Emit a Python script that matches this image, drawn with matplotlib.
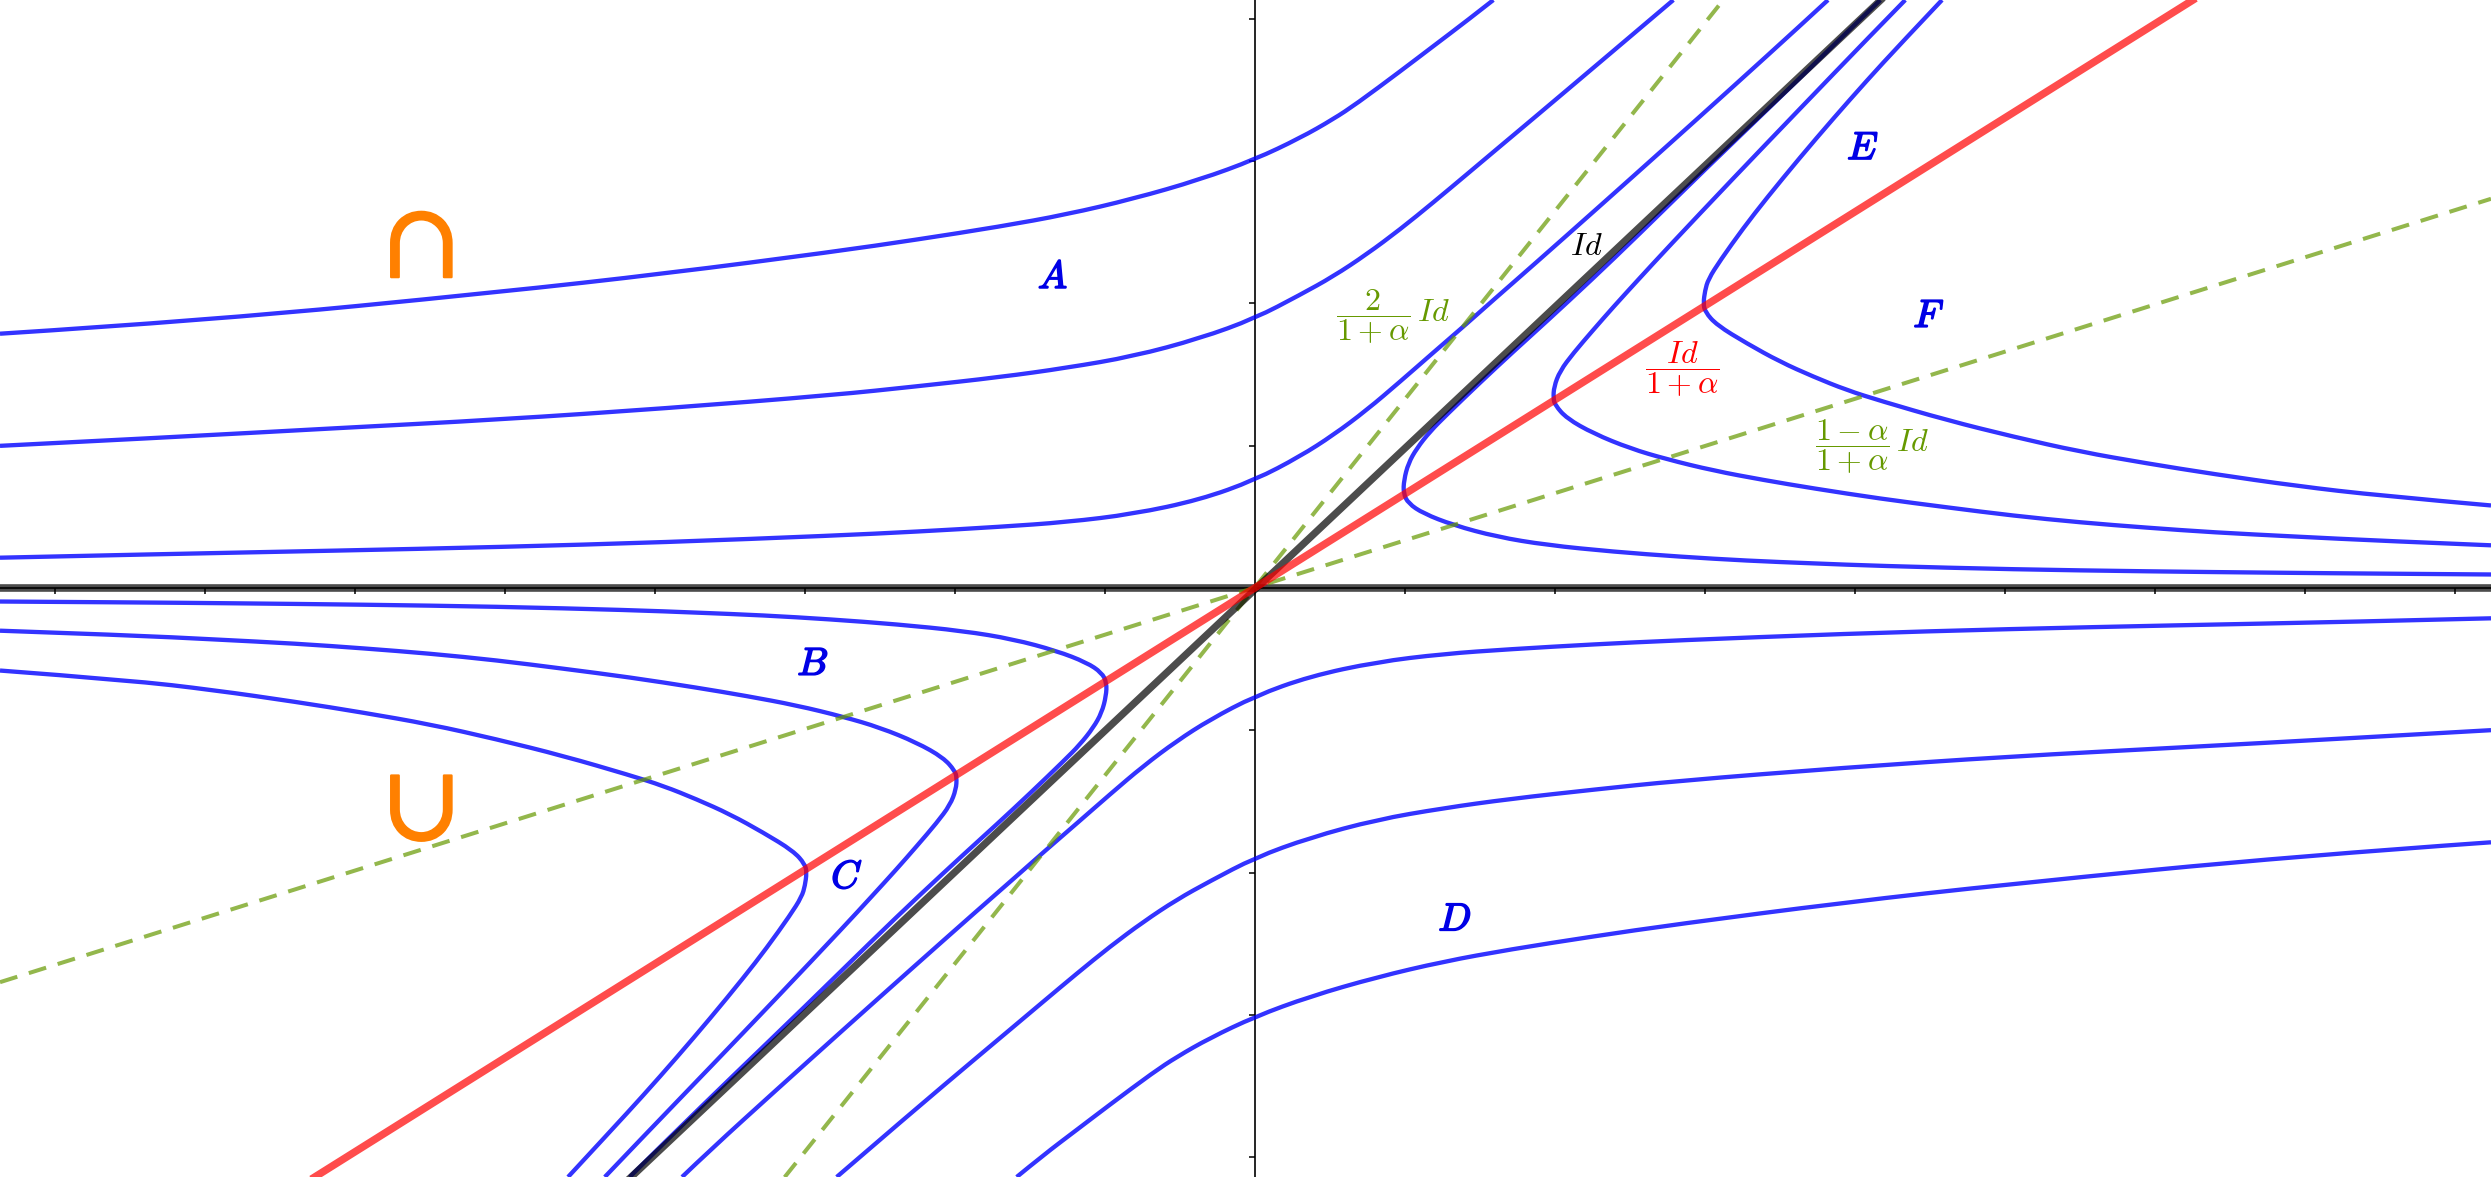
"""
Phase portrait: blue solution curves around the lines Id, Id/(1+a) and the two inflection lines
"""
import matplotlib
matplotlib.use('Agg')
import matplotlib.pyplot as plt
import matplotlib.patheffects as pe
from matplotlib.patches import PathPatch
from matplotlib.path import Path

plt.rcParams['mathtext.fontset'] = 'cm'

XLIM = (-8.367, 8.24)
YLIM = (-4.139, 4.132)

# straight lines, read at the picture edges
id_x = [-4.16, 4.17]
id_y = [-4.14, 4.13]
red_x = [-6.27, 6.25]
red_y = [-4.14, 4.13]
green_steep_x = [-3.136, 3.12]
green_steep_y = [-4.14, 4.13]
green_flat_x = [-8.367, 8.24]
green_flat_y = [-2.77, 2.735]

tick_x = [-8, -7, -6, -5, -4, -3, -2, -1, 1, 2, 3, 4, 5, 6, 7, 8]
tick_y = [-4, -3, -2, -1, 1, 2, 3, 4]

# curves above the x axis that cross the y axis
a1_x = [-8.367, -7.256, -6.144, -5.033, -3.922, -2.811, -2.256, -1.7, -1.256, -0.811, -0.367, 0, 0.3, 0.522, 0.744, 0.967, 1.189, 1.411, 1.589, 1.856, 2.3, 2.744, 3.189, 3.633, 3.82]
a1_y = [0.213, 0.239, 0.262, 0.288, 0.322, 0.368, 0.396, 0.43, 0.463, 0.52, 0.62, 0.759, 0.925, 1.075, 1.25, 1.45, 1.655, 1.857, 2.024, 2.27, 2.685, 3.103, 3.525, 3.95, 4.132]
a2_x = [-8.367, -7.256, -6.144, -5.033, -3.922, -2.811, -2.256, -1.7, -1.256, -0.811, -0.367, 0, 0.3, 0.522, 0.744, 0.967, 1.189, 1.411, 1.633, 1.856, 2.3, 2.789]
a2_y = [0.999, 1.058, 1.122, 1.184, 1.263, 1.356, 1.417, 1.482, 1.547, 1.628, 1.754, 1.895, 2.06, 2.19, 2.345, 2.52, 2.71, 2.906, 3.103, 3.3, 3.695, 4.132]
a3_x = [-8.367, -6.944, -5.033, -3.922, -2.811, -2.256, -1.7, -1.256, -0.811, -0.367, 0, 0.3, 0.522, 0.678, 0.967, 1.189, 1.411, 1.589]
a3_y = [1.787, 1.883, 2.08, 2.211, 2.363, 2.448, 2.54, 2.625, 2.735, 2.87, 3.012, 3.162, 3.295, 3.404, 3.63, 3.808, 3.985, 4.132]

# curves with a vertical tangent on the red line, right side
f1_x = [4.169, 3.933, 3.464, 3.004, 2.549, 2.244, 1.944, 1.722, 1.5, 1.278, 1.167, 1.078, 1.022, 0.993, 0.989, 1.022, 1.122, 1.322, 1.611, 1.944, 2.389, 2.833, 3.278, 3.722, 4.167, 5.056, 5.944, 6.833, 7.5, 8.24]
f1_y = [4.132, 3.892, 3.411, 2.945, 2.474, 2.166, 1.873, 1.661, 1.443, 1.218, 1.1, 0.981, 0.876, 0.759, 0.665, 0.595, 0.524, 0.442, 0.36, 0.302, 0.255, 0.22, 0.192, 0.173, 0.155, 0.131, 0.117, 0.107, 0.101, 0.095]
f2_x = [4.335, 4.078, 3.633, 3.189, 2.744, 2.556, 2.389, 2.256, 2.122, 2.033, 1.993, 1.989, 2.0, 2.078, 2.256, 2.5, 2.744, 3.056, 3.389, 3.722, 4.167, 4.611, 5.056, 5.5, 5.944, 6.389, 6.944, 7.5, 8.24]
f2_y = [4.132, 3.855, 3.368, 2.88, 2.383, 2.168, 1.975, 1.815, 1.65, 1.525, 1.414, 1.332, 1.286, 1.192, 1.086, 0.981, 0.905, 0.825, 0.759, 0.7, 0.628, 0.567, 0.508, 0.461, 0.424, 0.391, 0.361, 0.332, 0.3]
f3_x = [4.58, 4.3, 4.078, 3.856, 3.633, 3.411, 3.256, 3.1, 3.022, 3.0, 2.989, 3.0, 3.078, 3.278, 3.5, 3.722, 3.944, 4.167, 4.611, 5.056, 5.5, 5.944, 6.389, 6.944, 7.5, 8.24]
f3_y = [4.132, 3.82, 3.565, 3.3, 3.025, 2.74, 2.53, 2.3, 2.17, 2.09, 2.0, 1.941, 1.848, 1.719, 1.59, 1.485, 1.391, 1.316, 1.18, 1.063, 0.958, 0.876, 0.801, 0.717, 0.649, 0.58]

# curves below the x axis that cross the y axis
d1_x = [8.24, 7.256, 6.144, 5.033, 3.922, 2.811, 2.256, 1.7, 1.256, 0.811, 0.367, 0, -0.3, -0.522, -0.744, -0.967, -1.189, -1.411, -1.589, -1.856, -2.3, -2.744, -3.189, -3.633, -3.82]
d1_y = [-0.213, -0.239, -0.262, -0.288, -0.322, -0.368, -0.396, -0.43, -0.463, -0.52, -0.62, -0.759, -0.925, -1.075, -1.25, -1.45, -1.655, -1.857, -2.024, -2.27, -2.685, -3.103, -3.525, -3.95, -4.139]
d2_x = [8.24, 7.256, 6.144, 5.033, 3.922, 2.811, 2.256, 1.7, 1.256, 0.811, 0.367, 0, -0.3, -0.522, -0.744, -0.967, -1.189, -1.411, -1.633, -1.856, -2.3, -2.789]
d2_y = [-0.999, -1.058, -1.122, -1.184, -1.263, -1.356, -1.417, -1.482, -1.547, -1.628, -1.754, -1.895, -2.06, -2.19, -2.345, -2.52, -2.71, -2.906, -3.103, -3.3, -3.695, -4.139]
d3_x = [8.24, 6.944, 5.033, 3.922, 2.811, 2.256, 1.7, 1.256, 0.811, 0.367, 0, -0.3, -0.522, -0.678, -0.967, -1.189, -1.411, -1.589]
d3_y = [-1.787, -1.883, -2.08, -2.211, -2.363, -2.448, -2.54, -2.625, -2.735, -2.87, -3.012, -3.162, -3.295, -3.404, -3.63, -3.808, -3.985, -4.139]

# curves with a vertical tangent on the red line, left side
c1_x = [-4.169, -3.933, -3.464, -3.004, -2.549, -2.244, -1.944, -1.722, -1.5, -1.278, -1.167, -1.078, -1.022, -0.993, -0.989, -1.022, -1.122, -1.322, -1.611, -1.944, -2.389, -2.833, -3.278, -3.722, -4.167, -5.056, -5.944, -6.833, -7.5, -8.367]
c1_y = [-4.139, -3.892, -3.411, -2.945, -2.474, -2.166, -1.873, -1.661, -1.443, -1.218, -1.1, -0.981, -0.876, -0.759, -0.665, -0.595, -0.524, -0.442, -0.36, -0.302, -0.255, -0.22, -0.192, -0.173, -0.155, -0.131, -0.117, -0.107, -0.101, -0.095]
c2_x = [-4.335, -4.078, -3.633, -3.189, -2.744, -2.556, -2.389, -2.256, -2.122, -2.033, -1.993, -1.989, -2.0, -2.078, -2.256, -2.5, -2.744, -3.056, -3.389, -3.722, -4.167, -4.611, -5.056, -5.5, -5.944, -6.389, -6.944, -7.5, -8.367]
c2_y = [-4.139, -3.855, -3.368, -2.88, -2.383, -2.168, -1.975, -1.815, -1.65, -1.525, -1.414, -1.332, -1.286, -1.192, -1.086, -0.981, -0.905, -0.825, -0.759, -0.7, -0.628, -0.567, -0.508, -0.461, -0.424, -0.391, -0.361, -0.332, -0.3]
c3_x = [-4.58, -4.3, -4.078, -3.856, -3.633, -3.411, -3.256, -3.1, -3.022, -3.0, -2.989, -3.0, -3.078, -3.278, -3.5, -3.722, -3.944, -4.167, -4.611, -5.056, -5.5, -5.944, -6.389, -6.944, -7.5, -8.367]
c3_y = [-4.139, -3.82, -3.565, -3.3, -3.025, -2.74, -2.53, -2.3, -2.17, -2.09, -2.0, -1.941, -1.848, -1.719, -1.59, -1.485, -1.391, -1.316, -1.18, -1.063, -0.958, -0.876, -0.801, -0.717, -0.649, -0.58]

blue_curves = [
    (a1_x, a1_y), (a2_x, a2_y), (a3_x, a3_y),
    (f1_x, f1_y), (f2_x, f2_y), (f3_x, f3_y),
    (d1_x, d1_y), (d2_x, d2_y), (d3_x, d3_y),
    (c1_x, c1_y), (c2_x, c2_y), (c3_x, c3_y),
]

BLUE = '#0000ff'
RED = '#ff0000'
GREEN = '#669900'
ORANGE = '#ff8000'
TEXT_BLUE = '#0000e6'


def curve_path(xs, ys):
    """Quadratic path with the read points as control points, so no corners show"""
    verts = [(xs[0], ys[0])]
    codes = [Path.MOVETO]
    for i in range(1, len(xs) - 1):
        if i == len(xs) - 2:
            end = (xs[i + 1], ys[i + 1])
        else:
            end = ((xs[i] + xs[i + 1]) / 2, (ys[i] + ys[i + 1]) / 2)
        verts += [(xs[i], ys[i]), end]
        codes += [Path.CURVE3, Path.CURVE3]
    return Path(verts, codes)


fig = plt.figure(figsize=(24.91, 11.77), dpi=100, facecolor='white')
ax = fig.add_axes([0, 0, 1, 1])
ax.set_xlim(*XLIM)
ax.set_ylim(*YLIM)

# axes cross at the origin, thin y axis and ticks without labels
for side in ('top', 'right'):
    ax.spines[side].set_visible(False)
for side in ('left', 'bottom'):
    ax.spines[side].set_position('zero')
    ax.spines[side].set_linewidth(1.2)
ax.set_xticks(tick_x)
ax.set_yticks(tick_y)
ax.set_xticklabels([])
ax.set_yticklabels([])
ax.tick_params(length=4.2, width=1.1, direction='out')

# thick x axis line
ax.axhline(0, color='black', alpha=0.7, lw=5.5, zorder=3)

for cx, cy in blue_curves:
    ax.add_patch(PathPatch(curve_path(cx, cy), fill=False, edgecolor=BLUE, alpha=0.8,
                           lw=3.1, zorder=4))

ax.plot(green_steep_x, green_steep_y, color=GREEN, alpha=0.7, lw=2.9,
        linestyle=(0, (4.5, 3)), dash_capstyle='butt', zorder=5)
ax.plot(green_flat_x, green_flat_y, color=GREEN, alpha=0.7, lw=2.9,
        linestyle=(0, (4.5, 3)), dash_capstyle='butt', zorder=5)
ax.plot(id_x, id_y, color='black', alpha=0.7, lw=5.2, zorder=6)
ax.plot(red_x, red_y, color=RED, alpha=0.7, lw=5.4, zorder=7)

# region letters, stroked a little to look bold
bold = [pe.withStroke(linewidth=1.2, foreground=TEXT_BLUE)]
for label, lx, ly in [('A', -1.347, 2.185), ('B', -2.947, -0.534), ('C', -2.72, -2.031),
                      ('D', 1.333, -2.33), ('E', 4.053, 3.09), ('F', 4.493, 1.911)]:
    ax.text(lx, ly, f'${label}$', color=TEXT_BLUE, fontsize=28, ha='center', va='center',
            path_effects=bold, zorder=8)

ax.text(2.207, 2.403, r'$Id$', color='black', fontsize=23, ha='center', va='center', zorder=8)
ax.text(0.92, 1.91, r'$\dfrac{2}{1+\alpha}\,Id$', color=GREEN, fontsize=23, ha='center', va='center', zorder=8)
ax.text(2.847, 1.539, r'$\dfrac{Id}{1+\alpha}$', color=RED, fontsize=23, ha='center', va='center', zorder=8)
ax.text(4.113, 0.991, r'$\dfrac{1-\alpha}{1+\alpha}\,Id$', color=GREEN, fontsize=23, ha='center', va='center', zorder=8)

# convexity marks
thick = [pe.withStroke(linewidth=1.6, foreground=ORANGE)]
ax.text(-5.57, 2.431, r'$\cap$', color=ORANGE, fontsize=83, math_fontfamily='stix', ha='center', va='center', path_effects=thick, zorder=8)
ax.text(-5.57, -1.53, r'$\cup$', color=ORANGE, fontsize=83, math_fontfamily='stix', ha='center', va='center', path_effects=thick, zorder=8)

fig.savefig('out.png', dpi=100, facecolor='white')
